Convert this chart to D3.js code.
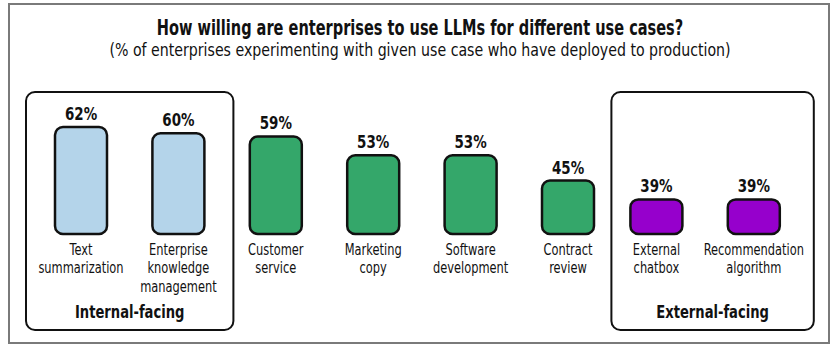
<!DOCTYPE html>
<html><head><meta charset="utf-8">
<script src="https://cdn.jsdelivr.net/npm/d3@7"></script>
<style>
body{margin:0;background:#fff;}
text{font-family:"DejaVu Sans Condensed","DejaVu Sans",sans-serif;fill:#111;}
</style></head><body>
<svg id="chart" width="839" height="354"></svg>
<script>
const categories = ["Text summarization","Enterprise knowledge management","Customer service","Marketing copy","Software development","Contract review","External chatbox","Recommendation algorithm"];
const labelLines = [["Text","summarization"],["Enterprise","knowledge","management"],["Customer","service"],["Marketing","copy"],["Software","development"],["Contract","review"],["External","chatbox"],["Recommendation","algorithm"]];
const values = [62,60,59,53,53,45,39,39];
const groups = ["internal","internal","neutral","neutral","neutral","neutral","external","external"];
const groupBoxes = [{name:"Internal-facing", from:0, to:1, padL:55, padR:55},{name:"External-facing", from:6, to:7, padL:45, padR:60}];
const title = "How willing are enterprises to use LLMs for different use cases?";
const subtitle = "(% of enterprises experimenting with given use case who have deployed to production)";

const colors = {internal:"#b4d4ea", neutral:"#34a76a", external:"#9600cc"};
const groupShift = {internal:0, neutral:0, external:-9};
const svg = d3.select("#chart");

function ntext(parent, cx, cy, sx, size, weight){
  return parent.append("text")
    .attr("transform",`translate(${cx},${cy}) scale(${sx},1)`)
    .attr("text-anchor","middle").attr("font-size",size).attr("font-weight",weight);
}

svg.append("rect").attr("x",9).attr("y",4).attr("width",820).attr("height",339)
  .attr("fill","#fff").attr("stroke","#7a7a7a").attr("stroke-width",2);

ntext(svg,420,35,0.77,21,"bold").text(title);
ntext(svg,420,56,0.9,17.5,"normal").text(subtitle);

const xp = d3.scalePoint().domain(categories).range([81,762.8]);
const x = d => xp(d) + groupShift[groups[categories.indexOf(d)]];
const y = d3.scaleLinear().domain([28,62]).range([234,127]);
const barW = 52;

groupBoxes.forEach(g=>{
  const x0 = x(categories[g.from]) - g.padL, x1 = x(categories[g.to]) + g.padR;
  svg.append("rect").attr("x",x0).attr("y",92).attr("width",x1-x0).attr("height",238)
    .attr("rx",9).attr("fill","none").attr("stroke","#111").attr("stroke-width",2);
  ntext(svg,(x0+x1)/2,318,0.81,18,"bold").text(g.name);
});

svg.append("g").selectAll("rect").data(categories).join("rect")
  .attr("x",d=>x(d)-barW/2).attr("y",(d,i)=>y(values[i]))
  .attr("width",barW).attr("height",(d,i)=>y(28)-y(values[i]))
  .attr("rx",8).attr("fill",(d,i)=>colors[groups[i]])
  .attr("stroke","#111").attr("stroke-width",2.5);

const pg = svg.append("g");
categories.forEach((c,i)=>{
  ntext(pg,x(c),y(values[i])-7,0.88,17,"bold").text(values[i]+"%");
});

const lg = svg.append("g");
categories.forEach((c,i)=>{
  const t = ntext(lg,x(c),255,0.82,15.5,"normal");
  t.selectAll("tspan").data(labelLines[i]).join("tspan")
    .attr("x",0).attr("dy",(s,j)=>j===0?0:18.5).text(s=>s);
});
</script></body></html>
